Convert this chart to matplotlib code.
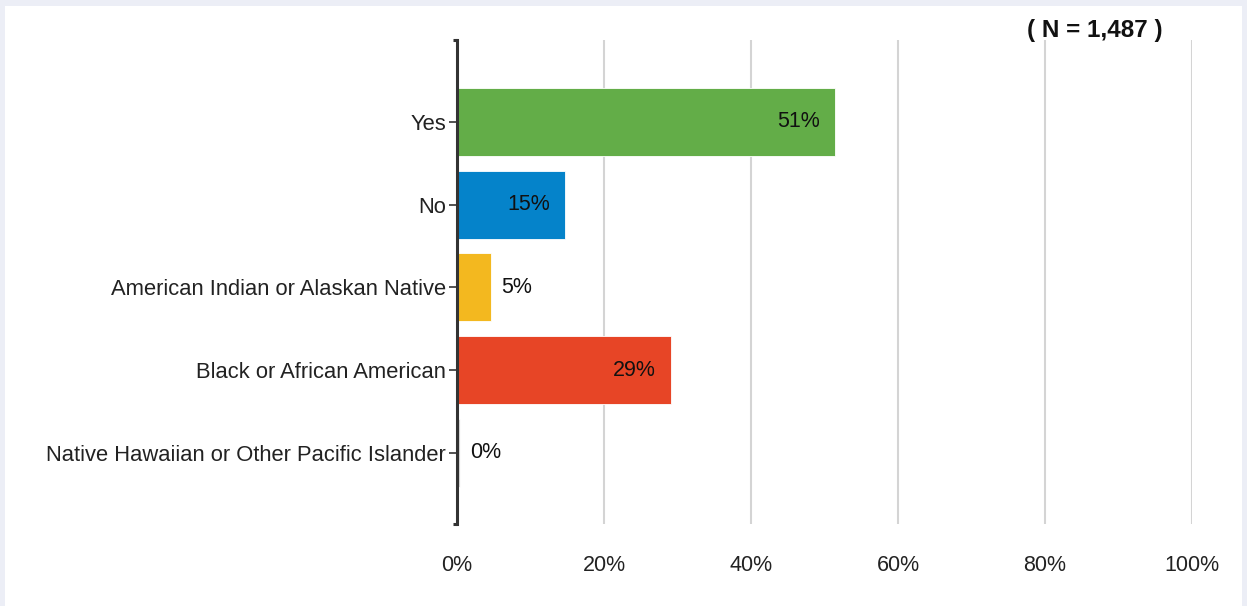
import matplotlib
matplotlib.use("Agg")
import matplotlib.pyplot as plt
from matplotlib.patches import Rectangle

# data
categories = ["Yes", "No", "American Indian or Alaskan Native",
              "Black or African American",
              "Native Hawaiian or Other Pacific Islander"]
values = [51.4, 14.7, 4.6, 29.1, 0.4]
labels = ["51%", "15%", "5%", "29%", "0%"]
colors = ["#63ad48", "#0583ca", "#f3b81f", "#e74526", "#d9d9d9"]
x_ticks = [0, 20, 40, 60, 80, 100]
x_tick_labels = ["0%", "20%", "40%", "60%", "80%", "100%"]
n_text = "( N = 1,487 )"

plt.rcParams["font.family"] = ["Liberation Sans", "DejaVu Sans"]

fig = plt.figure(figsize=(12.47, 6.06), dpi=100)
fig.patch.set_facecolor("white")

# light frame on left, top and right of the panel
border = "#eceef6"
for rect in [(0, 0, 5 / 1247, 1), (0, 1 - 6 / 606, 1, 6 / 606),
             (1 - 5 / 1247, 0, 5 / 1247, 1)]:
    fig.patches.append(Rectangle(rect[:2], rect[2], rect[3], transform=fig.transFigure,
                                 facecolor=border, edgecolor="none", zorder=0))

ax = fig.add_axes([457 / 1247, 1 - 524 / 606, 735 / 1247, 484 / 606])

y = list(range(len(categories)))
ax.barh(y, values, height=0.82, color=colors, edgecolor="white",
        linewidth=0.6, zorder=3)

for yi, v, lab in zip(y, values, labels):
    if v > 10:
        ax.text(v - 2.0, yi, lab, ha="right", va="center", fontsize=15.5,
                color="#111111", zorder=4)
    else:
        ax.text(v + 1.4, yi, lab, ha="left", va="center", fontsize=15.5,
                color="#111111", zorder=4)

ax.set_xlim(0, 100)
ax.set_ylim(4.86, -0.99)
ax.set_xticks(x_ticks)
ax.set_xticklabels(x_tick_labels, fontsize=15.5, color="#222222")
ax.set_yticks(y)
ax.set_yticklabels(categories, fontsize=15.8, color="#222222")

ax.grid(axis="x", color="#d4d4d4", linewidth=1.5, zorder=1)
ax.tick_params(axis="x", length=0, pad=22)
ax.tick_params(axis="y", length=6, width=1.2, color="#333333", pad=2)

for s in ["top", "right", "bottom"]:
    ax.spines[s].set_visible(False)
ax.spines["left"].set_color("#333333")
ax.spines["left"].set_linewidth(2.2)
ax.spines["left"].set_zorder(5)

# small end caps on the value axis
for yy in (4.86, -0.99):
    ax.plot([-0.6, 0], [yy, yy], color="#333333", linewidth=2.2,
            clip_on=False, zorder=5, solid_capstyle="butt")

fig.text(1095 / 1247, 1 - 30 / 606, n_text, ha="center", va="center",
         fontsize=17.5, fontweight="bold", color="#111111")

fig.savefig("out.png", dpi=100, facecolor="white")
